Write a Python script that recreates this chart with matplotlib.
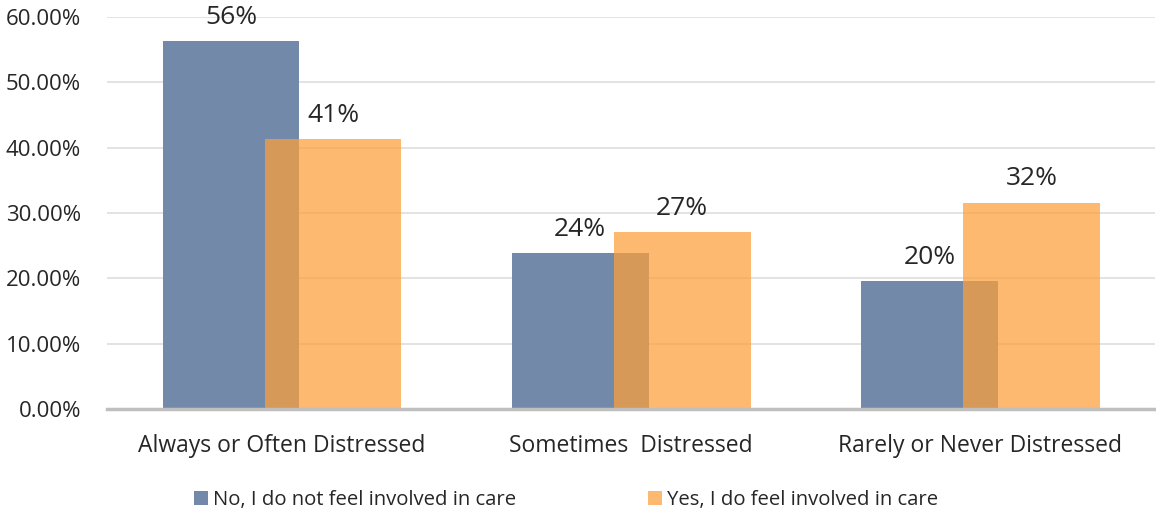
import matplotlib
matplotlib.use("Agg")
import matplotlib.pyplot as plt
import numpy as np
from matplotlib.ticker import FuncFormatter

categories = ["Always or Often Distressed", "Sometimes  Distressed", "Rarely or Never Distressed"]
not_involved = [0.5635, 0.239, 0.196]
involved = [0.413, 0.271, 0.316]
series_names = ["No, I do not feel involved in care", "Yes, I do feel involved in care"]

plt.rcParams["font.family"] = ["Open Sans", "DejaVu Sans"]
text_color = "#262626"

fig = plt.figure(figsize=(11.56, 5.13), dpi=100)
ax = fig.add_axes([0.0929, 0.2027, 0.9062, 0.764])

x = np.arange(len(categories))
width = 0.392
offset = 0.146

blue = "#7389AA"
orange = (252 / 255, 159 / 255, 58 / 255)

b1 = ax.bar(x - offset, not_involved, width, color=blue, zorder=2, label=series_names[0])
b2 = ax.bar(x + offset, involved, width, color=orange, alpha=0.73, zorder=3, label=series_names[1])

for bars, vals in ((b1, not_involved), (b2, involved)):
    for rect, v in zip(bars, vals):
        ax.annotate(f"{v * 100:.0f}%", (rect.get_x() + rect.get_width() / 2, v),
                    xytext=(0, 8), textcoords="offset points",
                    ha="center", va="bottom", fontsize=19, color=text_color, zorder=4,
                    annotation_clip=False)

ax.set_xlim(-0.5, 2.5)
ax.set_ylim(0, 0.6)
ax.set_yticks(np.arange(0, 0.61, 0.1))
ax.yaxis.set_major_formatter(FuncFormatter(lambda v, _: f"{v * 100:.2f}%"))
ax.set_xticks(x)
ax.set_xticklabels(categories)
ax.tick_params(axis="both", length=0, labelsize=16, colors=text_color)
ax.tick_params(axis="x", labelsize=16.5)
ax.tick_params(axis="y", pad=19)
ax.tick_params(axis="x", pad=18)

ax.grid(axis="y", color="#E3E3E3", linewidth=1.4, zorder=0)
ax.set_axisbelow(True)
for side in ("top", "right", "left"):
    ax.spines[side].set_visible(False)
ax.spines["bottom"].set_color("#BFBFBF")
ax.spines["bottom"].set_linewidth(2.5)
ax.spines["bottom"].set_zorder(5)

leg = fig.legend(handles=[b1, b2], loc="lower center", bbox_to_anchor=(0.4896, -0.03),
                 ncol=2, frameon=False, fontsize=14.6, handlelength=0.7, handleheight=0.7,
                 handletextpad=0.25, columnspacing=6.5)
for t in leg.get_texts():
    t.set_color(text_color)

fig.savefig("out.png", dpi=100)
